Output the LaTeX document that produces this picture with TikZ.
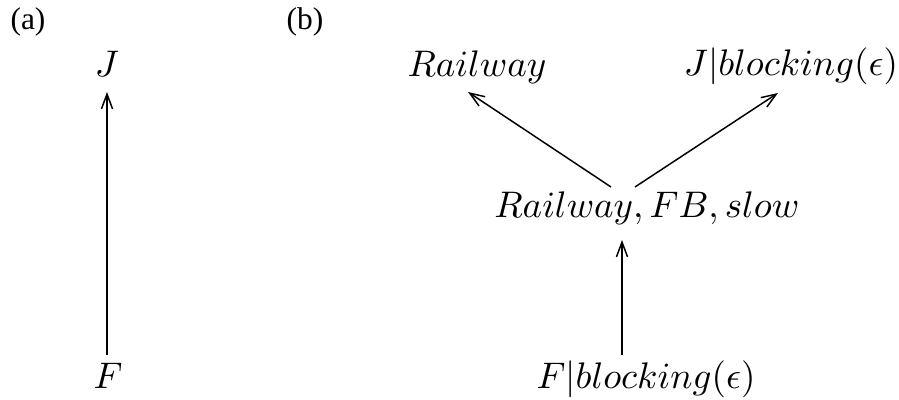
\documentclass[tikz,border=0pt]{standalone}
\usepackage{fontspec}
\usetikzlibrary{arrows.meta}
\setmainfont{Liberation Serif}
\begin{document}
\begin{tikzpicture}[x=0.2703pt, y=-0.2703pt,
  term/.style={inner sep=0pt, anchor=base, font=\fontsize{10}{12}\selectfont},
  panel/.style={inner sep=0pt, font=\fontsize{8.5}{10}\selectfont},
  edge/.style={-{Straight Barb[length=4pt,width=3pt]}, line width=0.4pt}]
\useasboundingbox (0,0) rectangle (899,400);

% panel labels
\node[panel] (pa) at (28,22) {(a)};
\node[panel] (pb) at (305,22) {(b)};

% (a)
\node[term] (J) at (107,77) {$J$};
\node[term] (F) at (108,389) {$F$};
\draw[edge] ([shift={(-1,-34)}]F.base) -- ([shift={(0,15)}]J.base);

% (b)
\node[term] (rail) at (477,77) {$Railway$};
\node[term] (jb) at (791,76) {$J|blocking(\epsilon)$};
\node[term] (mid) at (647,218) {$Railway, FB, slow$};
\node[term] (fb) at (646,389) {$F|blocking(\epsilon)$};

\draw[edge] ([shift={(-36,-31)}]mid.base) -- ([shift={(-9,15)}]rail.base);
\draw[edge] ([shift={(-12,-31)}]mid.base) -- ([shift={(-13,17)}]jb.base);
\draw[edge] ([shift={(-24,-34)}]fb.base) -- ([shift={(-25,22)}]mid.base);
\end{tikzpicture}
\end{document}
